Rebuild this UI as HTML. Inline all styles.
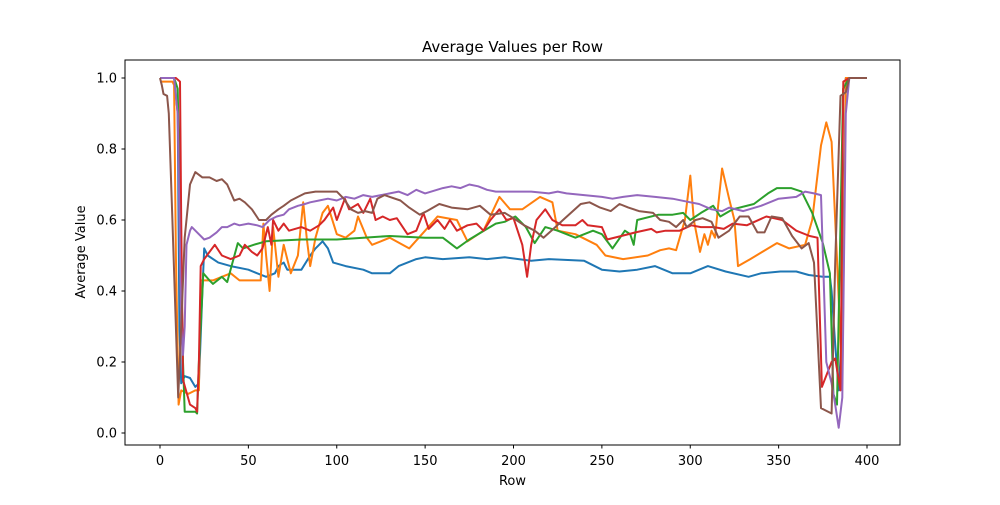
<!DOCTYPE html>
<html><head><meta charset="utf-8"><style>
body{margin:0;background:#fff;font-family:"Liberation Sans","DejaVu Sans",sans-serif}
svg text{font-family:"DejaVu Sans","Liberation Sans",sans-serif}
</style></head><body>
<svg id="chart" width="1000" height="500" viewBox="0 0 1000 500" xmlns="http://www.w3.org/2000/svg">
<rect width="1000" height="500" fill="#fff"/>
<text x="512.5" y="52" text-anchor="middle" font-size="15">Average Values per Row</text>
<text x="512.5" y="485" text-anchor="middle" font-size="13">Row</text>
<text x="85" y="252" text-anchor="middle" font-size="13" transform="rotate(-90 85 252)">Average Value</text>
<g id="ticks"></g>
<g id="series"></g>
<rect x="125" y="60" width="775" height="385" fill="none" stroke="#000" stroke-width="1"/>
</svg>
<script>
const xTicks=[0,50,100,150,200,250,300,350,400];
const yTicks=[0.0,0.2,0.4,0.6,0.8,1.0];
const yTickLabels=["0.0","0.2","0.4","0.6","0.8","1.0"];
const colors=["#1f77b4","#ff7f0e","#2ca02c","#d62728","#9467bd","#8c564b"];
const blueX=[0,8,10,11,12,14,17,20,22,24,25,27,33,40,50,55,60,65,67,70,72,80,85,88,92,95,98,105,115,120,130,135,145,150,160,175,185,195,210,220,240,250,260,270,280,290,300,305,310,320,333,340,351,360,367,375,378,379,380,382,384,386,388,400];
const blueY=[1.0,1.0,0.9,0.3,0.14,0.16,0.155,0.13,0.14,0.4,0.52,0.5,0.48,0.47,0.46,0.45,0.44,0.45,0.47,0.48,0.46,0.46,0.5,0.52,0.54,0.52,0.48,0.47,0.46,0.45,0.45,0.47,0.49,0.495,0.49,0.495,0.49,0.495,0.485,0.49,0.485,0.46,0.455,0.46,0.47,0.45,0.45,0.46,0.47,0.455,0.44,0.45,0.455,0.455,0.445,0.44,0.44,0.44,0.4,0.25,0.12,0.3,1.0,1.0];
const orangeX=[0,7,8,9,10.5,12,16,20,22,23,30,35,40,45,55,57,58.5,60,62,64,67,70,74,78,81,83,85,88,92,95,100,105,110,112,117,120,125,130,141,150,157,168,174,183,192,198,205,215,222,225,235,247,252,262,276,283,288,292,297,300,302,305.5,308,310,312,314,316,318,322,325,327,334,349,356,365,369,374,377,380,383,386,388,400];
const orangeY=[0.99,0.99,0.98,0.5,0.08,0.12,0.11,0.12,0.12,0.43,0.43,0.44,0.45,0.43,0.43,0.43,0.59,0.5,0.4,0.58,0.44,0.53,0.45,0.5,0.65,0.55,0.47,0.55,0.62,0.64,0.56,0.55,0.57,0.61,0.55,0.53,0.54,0.55,0.52,0.57,0.61,0.6,0.54,0.57,0.665,0.63,0.63,0.665,0.65,0.57,0.56,0.53,0.5,0.49,0.5,0.515,0.52,0.515,0.6,0.725,0.6,0.51,0.56,0.53,0.57,0.55,0.65,0.745,0.66,0.6,0.47,0.49,0.535,0.52,0.53,0.6,0.81,0.875,0.82,0.49,0.14,1.0,1.0];
const greenX=[0,8,10,13,14,20,21,22,24.5,28,30,35,38,44,47,53,60,80,100,115,130,150,160,168,175,185,190,195,201,207,212,218,225,235,245,250,256,263,266,268,270,282,290,296,300,306,313,317,324,336,344,349,357,363,369,375,379,381,383,386.5,390,400];
const greenY=[1.0,1.0,0.97,0.2,0.06,0.06,0.055,0.2,0.45,0.43,0.42,0.44,0.425,0.535,0.52,0.53,0.54,0.545,0.545,0.55,0.555,0.55,0.55,0.52,0.545,0.575,0.59,0.595,0.61,0.58,0.535,0.58,0.57,0.55,0.57,0.56,0.52,0.57,0.56,0.53,0.6,0.615,0.615,0.62,0.6,0.62,0.64,0.61,0.63,0.645,0.675,0.69,0.69,0.68,0.62,0.535,0.45,0.11,0.08,0.97,1.0,1.0];
const redX=[0,9,11.3,12,13,17,20,21,22,23,25,31,35,40,45,48,52,55,58,61,63,64,67,70,73,80,85,90,93,98,100,104.6,107,112,115,119,122,126,130,134,140,145,149,152,157,161,164,168,174,179,183,187,192,196,200,205,207.7,210,213,218,222,227.6,235,239,242,250,253,261,269,278,281,286,294,300.6,306,313.5,319,324,332,343,352,360,367.6,372,374.5,380,382,385,386.6,390,400];
const redY=[1.0,1.0,0.99,0.6,0.15,0.08,0.07,0.06,0.2,0.47,0.49,0.53,0.5,0.49,0.5,0.53,0.51,0.5,0.52,0.58,0.53,0.6,0.57,0.59,0.57,0.58,0.57,0.585,0.6,0.635,0.6,0.66,0.63,0.645,0.62,0.66,0.6,0.61,0.6,0.605,0.56,0.57,0.62,0.575,0.6,0.575,0.6,0.57,0.585,0.59,0.57,0.6,0.63,0.6,0.605,0.53,0.44,0.53,0.6,0.63,0.6,0.585,0.585,0.6,0.585,0.58,0.545,0.555,0.565,0.575,0.565,0.57,0.57,0.585,0.58,0.58,0.575,0.59,0.585,0.61,0.6,0.57,0.555,0.55,0.13,0.2,0.21,0.12,0.99,1.0,1.0];
const purpleX=[0,8,10,12,13,14,15,17,18,22,25,28,32,35,38,42,45,50,55,58,62,66,70,73,78,82,85,90,95,100,105,110,115,120,130,135,140,145,150,160,165,170,175,180,185,190,200,210,220,225,230,240,250,256,262,270,280,290,300,305,312,318,322,330,340,350,360,365,370,374,377,380,382,384,386,388,390,400];
const purpleY=[1.0,1.0,0.9,0.3,0.22,0.3,0.53,0.57,0.58,0.56,0.545,0.55,0.565,0.58,0.58,0.59,0.585,0.59,0.585,0.58,0.6,0.61,0.615,0.63,0.64,0.645,0.65,0.655,0.66,0.655,0.665,0.66,0.67,0.665,0.675,0.68,0.67,0.685,0.675,0.69,0.695,0.69,0.7,0.695,0.685,0.68,0.68,0.68,0.675,0.68,0.675,0.67,0.665,0.66,0.665,0.67,0.665,0.66,0.65,0.645,0.63,0.625,0.635,0.625,0.64,0.66,0.665,0.68,0.675,0.67,0.2,0.14,0.08,0.015,0.1,0.9,1.0,1.0];
const brownX=[0,1,2,4,5,7,10.3,12,14,17,20,24,28,32,35,38,42,45,48,52,56,60,63,67,70,74,78,82,88,95,100,104,108,112,116,120,123,127,130,136,141,147,151,158,165,174,181,187,195,200,206,212,217,222.6,228,238,243,249,255,260,265,271,279,283,288,292,296,298,303,307,312,316,322,328,333,338,342,346,352,357.6,363,367,370,374,380,382,385,388,390,400];
const brownY=[1.0,0.98,0.955,0.95,0.9,0.6,0.1,0.3,0.55,0.7,0.735,0.72,0.72,0.71,0.715,0.7,0.655,0.66,0.65,0.63,0.6,0.6,0.615,0.63,0.64,0.655,0.665,0.675,0.68,0.68,0.68,0.66,0.63,0.62,0.625,0.62,0.66,0.67,0.665,0.655,0.635,0.615,0.625,0.645,0.635,0.63,0.64,0.615,0.62,0.605,0.585,0.57,0.55,0.575,0.6,0.645,0.65,0.635,0.625,0.645,0.635,0.625,0.62,0.6,0.595,0.58,0.6,0.58,0.6,0.605,0.595,0.55,0.57,0.61,0.61,0.565,0.565,0.61,0.605,0.555,0.52,0.535,0.48,0.07,0.055,0.48,0.95,0.96,1.0,1.0];

const NS="http://www.w3.org/2000/svg";
function xs(v){return 160+v*(707/400);}
function ys(v){return 433-v*355;}
const tg=document.getElementById('ticks');
xTicks.forEach(t=>{
  const l=document.createElementNS(NS,'line');
  
  
  l.setAttribute('x1',xs(t));l.setAttribute('x2',xs(t));l.setAttribute('y1',445);l.setAttribute('y2',448.5);l.setAttribute('stroke','#000');
  tg.appendChild(l);
  const tx=document.createElementNS(NS,'text');
  
  
  tx.setAttribute('x',xs(t));tx.setAttribute('y',465);tx.setAttribute('text-anchor','middle');tx.setAttribute('font-size','13');
  tx.textContent=t;tg.appendChild(tx);
});
yTicks.forEach((t,i)=>{
  const l=document.createElementNS(NS,'line');
  
  
  l.setAttribute('x1',121.5);l.setAttribute('x2',125);l.setAttribute('y1',ys(t));l.setAttribute('y2',ys(t));l.setAttribute('stroke','#000');
  tg.appendChild(l);
  const tx=document.createElementNS(NS,'text');
  
  
  tx.setAttribute('x',117);tx.setAttribute('y',ys(t)+4.5);tx.setAttribute('text-anchor','end');tx.setAttribute('font-size','13');
  tx.textContent=yTickLabels[i];tg.appendChild(tx);
});
const sg=document.getElementById('series');
const allX=[blueX,orangeX,greenX,redX,purpleX,brownX];
const allY=[blueY,orangeY,greenY,redY,purpleY,brownY];
const names=['series-1-line','series-2-line','series-3-line','series-4-line','series-5-line','series-6-line'];
allX.forEach((X,i)=>{
  const Y=allY[i];
  const pts=X.map((x,j)=>xs(x).toFixed(1)+','+ys(Y[j]).toFixed(1)).join(' ');
  const p=document.createElementNS(NS,'polyline');
  
  
  p.setAttribute('points',pts);p.setAttribute('fill','none');p.setAttribute('stroke',colors[i]);
  p.setAttribute('stroke-width','2');p.setAttribute('stroke-linejoin','round');
  sg.appendChild(p);
});
</script>
</body></html>
